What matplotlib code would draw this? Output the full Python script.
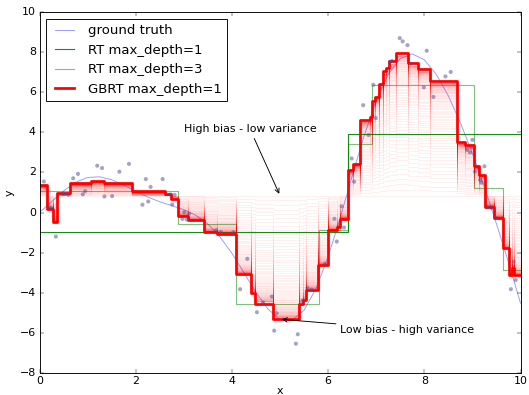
import numpy as np
import matplotlib
matplotlib.use("Agg")
import matplotlib.pyplot as plt

plt.style.use("classic")

# Ground truth curve, sampled every 0.25 on [0, 10]
truth_x = np.linspace(0, 10, 41)
truth_y = [0.0, 0.541, 1.081, 1.509, 1.751, 1.785, 1.637, 1.371, 1.062, 0.773,
           0.537, 0.344, 0.144, -0.137, -0.571, -1.206, -2.038, -3.005, -3.987,
           -4.822, -5.339, -5.389, -4.880, -3.797, -2.213, -0.274, 1.818, 3.841,
           5.590, 6.902, 7.685, 7.923, 7.627, 6.899, 5.826, 4.486, 2.958, 1.270,
           -0.565, -2.477, -4.527]

# Training samples
train_x = [0.09, 0.20, 0.25, 0.34, 0.48, 0.53, 0.60, 0.70, 0.80, 0.90, 0.95,
           1.20, 1.30, 1.35, 1.51, 1.66, 1.86, 2.14, 2.21, 2.26, 2.31, 2.56,
           2.72, 2.76, 2.81, 2.97, 3.01, 3.06, 3.11, 3.67, 3.77, 4.03, 4.17,
           4.32, 4.52, 4.65, 4.83, 4.88, 4.93, 5.07, 5.33, 5.37, 5.47, 5.57,
           5.66, 5.93, 6.13, 6.18, 6.28, 6.33, 6.49, 6.54, 6.73, 6.84, 6.94,
           6.99, 7.29, 7.33, 7.49, 7.55, 7.65, 7.72, 7.99, 8.05, 8.19, 8.44,
           8.55, 8.89, 8.95, 9.00, 9.05, 9.16, 9.19, 9.25, 9.31, 9.40, 9.49,
           9.80, 9.86, 9.90]
train_y = [1.55, 0.27, 0.22, -1.20, 0.92, 0.92, 0.88, 1.71, 1.93, 0.91, 1.07,
           2.34, 2.22, 0.80, 0.82, 2.04, 2.43, 0.39, 1.67, 0.55, 1.28, 1.67,
           0.90, 0.40, 0.88, -0.32, 0.02, -0.35, -0.06, -0.89, -0.97, -0.98,
           -3.83, -2.31, -4.98, -4.50, -4.20, -5.90, -5.03, -5.33, -6.55, -6.08,
           -4.40, -3.76, -3.85, -2.57, -0.31, -1.45, 0.31, -0.75, 2.70, 1.54,
           5.36, 3.87, 6.38, 4.72, 7.52, 7.57, 8.71, 8.55, 8.36, 7.42, 6.25,
           8.08, 5.77, 6.80, 7.02, 3.13, 3.00, 3.63, 2.04, 1.63, 1.49, 2.31,
           0.26, 0.22, -0.28, -3.83, -2.45, -3.37]

# Regression tree, max_depth=1: left edges of the leaves and their values
rt1_edges = [0.0, 6.42]
rt1_values = [-0.97, 3.92]

# Regression tree, max_depth=3
rt3_edges = [0.0, 2.88, 4.09, 5.81, 6.42, 6.91, 9.03, 9.63]
rt3_values = [1.08, -0.56, -4.58, -0.88, 3.40, 6.37, 1.22, -2.87]

# Gradient boosted stumps: initial constant and final prediction
gbrt_init = 0.85
gbrt_edges = [0.00, 0.15, 0.29, 0.36, 0.63, 1.08, 1.35, 1.93, 2.61, 2.74,
              2.88, 3.08, 3.43, 3.68, 4.09, 4.40, 4.49, 4.85, 5.40, 5.47,
              5.55, 5.80, 6.00, 6.18, 6.25, 6.41, 6.52, 6.67, 6.87, 6.92,
              6.98, 7.05, 7.15, 7.21, 7.26, 7.41, 7.66, 7.87, 8.11, 8.67,
              8.85, 9.03, 9.14, 9.26, 9.45, 9.63, 9.77, 9.83, 9.87]
gbrt_values = [1.35, 0.18, -0.45, 1.00, 1.45, 1.58, 1.47, 1.05, 0.93, 0.66,
               -0.18, -0.38, -0.97, -1.06, -3.07, -4.02, -4.55, -5.33, -4.57, -4.38,
               -3.87, -2.62, -0.88, -0.73, -0.30, 2.10, 2.42, 4.60, 4.75, 5.55,
               5.78, 6.40, 7.05, 7.22, 7.55, 7.97, 7.45, 7.17, 6.58, 3.50,
               3.35, 2.30, 1.88, 0.30, -0.25, -1.78, -3.12, -2.75, -3.12]
learning_rate = 0.04
n_stages = 100

X_MAX = 10.0


def step_xy(edges, values):
    xs = np.r_[np.asarray(edges, float), X_MAX]
    ys = np.r_[np.asarray(values, float), values[-1]]
    return xs, ys


fig = plt.figure(figsize=(529 / 66, 395 / 66), dpi=66)
ax = fig.add_axes([39.5 / 529, 1 - 372.7 / 395, 481 / 529, 360.4 / 395])

ax.plot(truth_x, truth_y, color="b", alpha=0.4, lw=1, label="ground truth")
ax.scatter(train_x, train_y, s=20, c="#4a4a8e", edgecolors="none",
           alpha=0.5, zorder=3)

xs, ys = step_xy(rt1_edges, rt1_values)
ax.step(xs, ys, where="post", color="g", alpha=0.9, lw=1.2,
        label="RT max_depth=1")
xs, ys = step_xy(rt3_edges, rt3_values)
ax.step(xs, ys, where="post", color="g", alpha=0.5, lw=1.2,
        label="RT max_depth=3")

# staged predictions of the boosted model
final = np.asarray(gbrt_values, float)
for k in range(n_stages):
    frac = 1 - (1 - learning_rate) ** k
    xs, ys = step_xy(gbrt_edges, gbrt_init + frac * (final - gbrt_init))
    ax.step(xs, ys, where="post", color="r", alpha=0.08, lw=0.8)

xs, ys = step_xy(gbrt_edges, gbrt_values)
ax.step(xs, ys, where="post", color="r", lw=3, label="GBRT max_depth=1")


def value_at(edges, values, x):
    idx = np.searchsorted(edges, x, side="right") - 1
    return values[idx]


ax.annotate("High bias - low variance", xy=(5.0, gbrt_init), xycoords="data",
            xytext=(3, 4), textcoords="data",
            arrowprops=dict(arrowstyle="->", connectionstyle="arc"))
ax.annotate("Low bias - high variance",
            xy=(5.0, value_at(gbrt_edges, gbrt_values, 5.0)), xycoords="data",
            xytext=(6.25, -6), textcoords="data",
            arrowprops=dict(arrowstyle="->", connectionstyle="arc"))

ax.set_xlim(0, 10)
ax.set_ylim(-8, 10)
ax.set_xlabel("x", labelpad=0)
ax.set_ylabel("y")
ax.legend(loc="upper left")

fig.savefig("out.png", dpi=66)
